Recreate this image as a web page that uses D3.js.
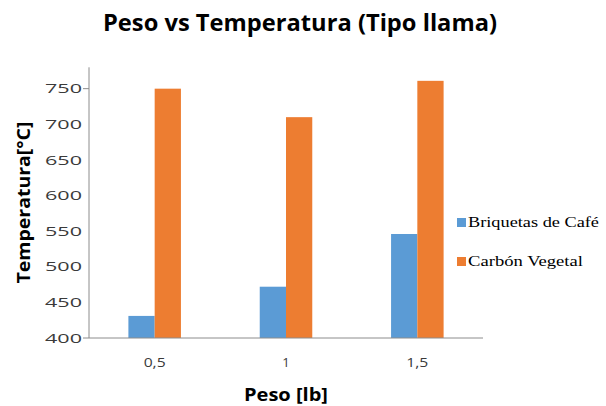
<!DOCTYPE html>
<html>
<head>
<meta charset="utf-8">
<script src="https://cdn.jsdelivr.net/npm/d3@7"></script>
<style>
  html, body { margin: 0; padding: 0; background: #fff; }
  svg { display: block; }
</style>
</head>
<body>
<div id="chart"></div>
<script>
// Data
const categories = ["0,5", "1", "1,5"];
const seriesNames = ["Briquetas de Café", "Carbón Vegetal"];
const briquetas = [431, 472, 546];
const carbon = [750, 710, 761];
const yTicks = [400, 450, 500, 550, 600, 650, 700, 750];
const colors = ["#5B9BD5", "#ED7D31"];

const W = 606, H = 406;
const plot = { left: 89, right: 483, top: 67.3, bottom: 338 };

const svg = d3.select("#chart").append("svg")
  .attr("width", W).attr("height", H);

const x0 = d3.scaleBand()
  .domain(categories)
  .range([plot.left, plot.right])
  .paddingInner(0.6)
  .paddingOuter(0.3);

const x1 = d3.scaleBand()
  .domain(seriesNames)
  .range([0, x0.bandwidth()]);

const y = d3.scaleLinear()
  .domain([400, 780])
  .range([plot.bottom, plot.top]);

const rows = categories.map((c, i) => ({
  cat: c,
  vals: [
    { name: seriesNames[0], v: briquetas[i], color: colors[0] },
    { name: seriesNames[1], v: carbon[i], color: colors[1] }
  ]
}));

// Bars
const g = svg.append("g");
g.selectAll("g.grp").data(rows).join("g")
  .attr("class", "grp")
  .attr("transform", d => `translate(${x0(d.cat)},0)`)
  .selectAll("rect").data(d => d.vals).join("rect")
  .attr("x", d => x1(d.name))
  .attr("width", x1.bandwidth())
  .attr("y", d => y(d.v))
  .attr("height", d => y(400) - y(d.v))
  .attr("fill", d => d.color);

// Axis lines
const axisColor = "#8c8c8c";
svg.append("line")
  .attr("x1", plot.left).attr("x2", plot.left)
  .attr("y1", plot.top).attr("y2", plot.bottom)
  .attr("stroke", axisColor).attr("stroke-width", 1);
svg.append("line")
  .attr("x1", plot.left - 6).attr("x2", plot.right)
  .attr("y1", y(400)).attr("y2", y(400))
  .attr("stroke", axisColor).attr("stroke-width", 1);
svg.append("line")
  .attr("x1", plot.left - 6).attr("x2", plot.left)
  .attr("y1", y(750)).attr("y2", y(750))
  .attr("stroke", axisColor).attr("stroke-width", 1);

// Y tick labels
svg.append("g").selectAll("text").data(yTicks).join("text")
  .attr("x", 82)
  .attr("y", d => y(d))
  .attr("dy", "0.36em")
  .attr("text-anchor", "end")
  .attr("font-family", "'Open Sans', sans-serif")
  .attr("font-size", 13)
  .attr("fill", "#3a3a3a")
  .attr("textLength", 37)
  .attr("lengthAdjust", "spacingAndGlyphs")
  .text(d => d);

// X tick labels
svg.append("g").selectAll("text").data(categories).join("text")
  .attr("x", d => x0(d) + x0.bandwidth() / 2)
  .attr("y", 367)
  .attr("text-anchor", "middle")
  .attr("font-family", "'Open Sans', sans-serif")
  .attr("font-size", 13)
  .attr("fill", "#3a3a3a")
  .each(function(d) {
    if (d.length > 1) d3.select(this).attr("textLength", 22).attr("lengthAdjust", "spacingAndGlyphs");
  })
  .text(d => d);

// Title
svg.append("text")
  .attr("x", 300).attr("y", 31)
  .attr("text-anchor", "middle")
  .attr("font-family", "'Open Sans', sans-serif")
  .attr("font-weight", "bold")
  .attr("font-size", 23)
  .attr("fill", "#000")
  .attr("textLength", 394)
  .attr("lengthAdjust", "spacingAndGlyphs")
  .text("Peso vs Temperatura (Tipo llama)");

// X axis title
svg.append("text")
  .attr("x", 286).attr("y", 401)
  .attr("text-anchor", "middle")
  .attr("font-family", "'Open Sans', sans-serif")
  .attr("font-weight", "bold")
  .attr("font-size", 18)
  .attr("fill", "#000")
  .attr("textLength", 84)
  .attr("lengthAdjust", "spacingAndGlyphs")
  .text("Peso [lb]");

// Y axis title
svg.append("text")
  .attr("transform", "translate(30,202.5) rotate(-90)")
  .attr("text-anchor", "middle")
  .attr("font-family", "'Open Sans', sans-serif")
  .attr("font-weight", "bold")
  .attr("font-size", 18)
  .attr("fill", "#000")
  .attr("textLength", 162)
  .attr("lengthAdjust", "spacingAndGlyphs")
  .text("Temperatura[°C]");

// Legend
const legendW = [131, 115];
const legend = svg.append("g").selectAll("g").data(seriesNames).join("g")
  .attr("transform", (d, i) => `translate(457,${218 + i * 39})`);
legend.append("rect")
  .attr("width", 9).attr("height", 9)
  .attr("fill", (d, i) => colors[i]);
legend.append("text")
  .attr("x", 11).attr("y", 9)
  .attr("font-family", "'Liberation Serif', 'Times New Roman', serif")
  .attr("font-size", 15)
  .attr("fill", "#000")
  .attr("textLength", (d, i) => legendW[i])
  .attr("lengthAdjust", "spacingAndGlyphs")
  .text(d => d);
</script>
</body>
</html>
